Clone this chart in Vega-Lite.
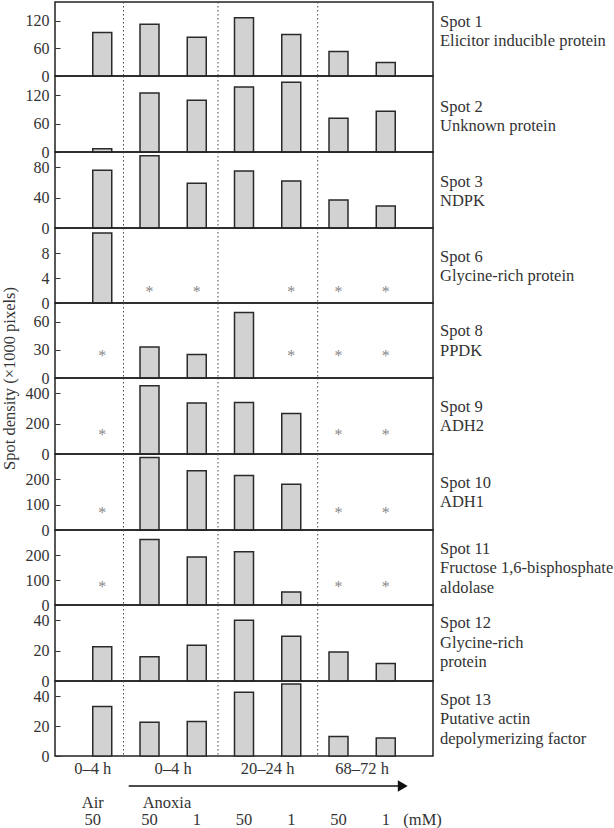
{
  "$schema": "https://vega.github.io/schema/vega-lite/v6.json",
  "padding": {"left": 0, "top": 0, "right": 0, "bottom": 0},
  "spacing": 0,
  "bounds": "flush",
  "config": {
    "view": {"stroke": "#222", "strokeWidth": 1.5},
    "font": "Liberation Serif",
    "scale": {"continuousPadding": 0},
    "axisY": {"domain": false, "grid": false, "tickCount": 3, "tickSize": -5, "tickWidth": 1, "labelPadding": 11, "labelOverlap": false, "labelFontSize": 16, "labelColor": "#333", "tickColor": "#333", "labelFont": "Liberation Serif", "titleFont": "Liberation Serif", "titleFontSize": 16.5, "titleFontWeight": "normal", "titleColor": "#333", "titlePadding": 8},
    "text": {"font": "Liberation Serif", "fontSize": 16.5, "color": "#333"}
  },
  "datasets": {
    "bars": [
      {"spot": "Spot 1", "pos": 0, "value": 94}, {"spot": "Spot 1", "pos": 1, "value": 112}, {"spot": "Spot 1", "pos": 2, "value": 84}, {"spot": "Spot 1", "pos": 3, "value": 126}, {"spot": "Spot 1", "pos": 4, "value": 90}, {"spot": "Spot 1", "pos": 5, "value": 53}, {"spot": "Spot 1", "pos": 6, "value": 29},
      {"spot": "Spot 2", "pos": 0, "value": 7}, {"spot": "Spot 2", "pos": 1, "value": 124}, {"spot": "Spot 2", "pos": 2, "value": 109}, {"spot": "Spot 2", "pos": 3, "value": 137}, {"spot": "Spot 2", "pos": 4, "value": 147}, {"spot": "Spot 2", "pos": 5, "value": 71}, {"spot": "Spot 2", "pos": 6, "value": 86},
      {"spot": "Spot 3", "pos": 0, "value": 76}, {"spot": "Spot 3", "pos": 1, "value": 95}, {"spot": "Spot 3", "pos": 2, "value": 59}, {"spot": "Spot 3", "pos": 3, "value": 75}, {"spot": "Spot 3", "pos": 4, "value": 62}, {"spot": "Spot 3", "pos": 5, "value": 37}, {"spot": "Spot 3", "pos": 6, "value": 29},
      {"spot": "Spot 6", "pos": 0, "value": 11.2},
      {"spot": "Spot 8", "pos": 1, "value": 33}, {"spot": "Spot 8", "pos": 2, "value": 25}, {"spot": "Spot 8", "pos": 3, "value": 70},
      {"spot": "Spot 9", "pos": 1, "value": 449}, {"spot": "Spot 9", "pos": 2, "value": 335}, {"spot": "Spot 9", "pos": 3, "value": 338}, {"spot": "Spot 9", "pos": 4, "value": 266},
      {"spot": "Spot 10", "pos": 1, "value": 286}, {"spot": "Spot 10", "pos": 2, "value": 234}, {"spot": "Spot 10", "pos": 3, "value": 215}, {"spot": "Spot 10", "pos": 4, "value": 181},
      {"spot": "Spot 11", "pos": 1, "value": 262}, {"spot": "Spot 11", "pos": 2, "value": 192}, {"spot": "Spot 11", "pos": 3, "value": 213}, {"spot": "Spot 11", "pos": 4, "value": 52},
      {"spot": "Spot 12", "pos": 0, "value": 22.5}, {"spot": "Spot 12", "pos": 1, "value": 16}, {"spot": "Spot 12", "pos": 2, "value": 23.5}, {"spot": "Spot 12", "pos": 3, "value": 40}, {"spot": "Spot 12", "pos": 4, "value": 29.5}, {"spot": "Spot 12", "pos": 5, "value": 19}, {"spot": "Spot 12", "pos": 6, "value": 11.5},
      {"spot": "Spot 13", "pos": 0, "value": 33}, {"spot": "Spot 13", "pos": 1, "value": 22.5}, {"spot": "Spot 13", "pos": 2, "value": 23}, {"spot": "Spot 13", "pos": 3, "value": 42.5}, {"spot": "Spot 13", "pos": 4, "value": 48}, {"spot": "Spot 13", "pos": 5, "value": 13}, {"spot": "Spot 13", "pos": 6, "value": 12}
    ],
    "stars": [
      {"spot": "Spot 6", "pos": 1}, {"spot": "Spot 6", "pos": 2}, {"spot": "Spot 6", "pos": 4}, {"spot": "Spot 6", "pos": 5}, {"spot": "Spot 6", "pos": 6},
      {"spot": "Spot 8", "pos": 0}, {"spot": "Spot 8", "pos": 4}, {"spot": "Spot 8", "pos": 5}, {"spot": "Spot 8", "pos": 6},
      {"spot": "Spot 9", "pos": 0}, {"spot": "Spot 9", "pos": 5}, {"spot": "Spot 9", "pos": 6},
      {"spot": "Spot 10", "pos": 0}, {"spot": "Spot 10", "pos": 5}, {"spot": "Spot 10", "pos": 6},
      {"spot": "Spot 11", "pos": 0}, {"spot": "Spot 11", "pos": 5}, {"spot": "Spot 11", "pos": 6}
    ],
    "seps": [{"x": 0.45}, {"x": 2.45}, {"x": 4.56}],
    "labels": [
      {"spot": "Spot 1", "label": "Spot 1\nElicitor inducible protein"},
      {"spot": "Spot 2", "label": "Spot 2\nUnknown protein"},
      {"spot": "Spot 3", "label": "Spot 3\nNDPK"},
      {"spot": "Spot 6", "label": "Spot 6\nGlycine-rich protein"},
      {"spot": "Spot 8", "label": "Spot 8\nPPDK"},
      {"spot": "Spot 9", "label": "Spot 9\nADH2"},
      {"spot": "Spot 10", "label": "Spot 10\nADH1"},
      {"spot": "Spot 11", "label": "Spot 11\nFructose 1,6-bisphosphate\naldolase"},
      {"spot": "Spot 12", "label": "Spot 12\nGlycine-rich\nprotein"},
      {"spot": "Spot 13", "label": "Spot 13\nPutative actin\ndepolymerizing factor"}
    ],
    "bottom": [
      {"row": "time", "x": -0.2, "label": "0–4 h"},
      {"row": "time", "x": 1.5, "label": "0–4 h"},
      {"row": "time", "x": 3.5, "label": "20–24 h"},
      {"row": "time", "x": 5.5, "label": "68–72 h"},
      {"row": "treat", "x": -0.2, "label": "Air"},
      {"row": "treat", "x": 1.37, "label": "Anoxia"},
      {"row": "conc", "x": -0.2, "label": "50"},
      {"row": "conc", "x": 1, "label": "50"},
      {"row": "conc", "x": 2, "label": "1"},
      {"row": "conc", "x": 3, "label": "50"},
      {"row": "conc", "x": 4, "label": "1"},
      {"row": "conc", "x": 5, "label": "50"},
      {"row": "conc", "x": 6, "label": "1"},
      {"row": "conc", "x": 6.78, "label": "(mM)"}
    ],
    "arrow": [{"row": "arrow", "from": 0.56, "to": 6.3, "head": 6.36}]
  },
  "vconcat": [
    {"width": 378, "height": 74, "layer": [
      {"data": {"name": "seps"}, "mark": {"type": "rule", "strokeDash": [1.5, 2.5], "color": "#444", "strokeWidth": 1}, "encoding": {"x": {"field": "x", "type": "quantitative", "scale": {"domain": [-1, 7], "padding": 0}, "axis": null}}},
      {"data": {"name": "bars"}, "transform": [{"filter": "datum.spot === 'Spot 1'"}], "mark": {"type": "bar", "size": 19, "fill": "#d2d2d2", "stroke": "#2a2a2a", "strokeWidth": 1.5}, "encoding": {"x": {"field": "pos", "type": "quantitative"}, "y": {"field": "value", "type": "quantitative", "scale": {"domain": [0, 150]}, "axis": {"values": [0, 60, 120], "tickCount": 3, "title": null}}}},
      {"data": {"name": "labels"}, "transform": [{"filter": "datum.spot === 'Spot 1'"}], "mark": {"type": "text", "align": "left", "baseline": "top", "dx": 7, "lineBreak": "\n", "lineHeight": 19}, "encoding": {"text": {"field": "label"}, "x": {"datum": 7}, "y": {"datum": 135}}}
    ]},
    {"width": 378, "height": 76, "layer": [
      {"data": {"name": "seps"}, "mark": {"type": "rule", "strokeDash": [1.5, 2.5], "color": "#444", "strokeWidth": 1}, "encoding": {"x": {"field": "x", "type": "quantitative", "scale": {"domain": [-1, 7], "padding": 0}, "axis": null}}},
      {"data": {"name": "bars"}, "transform": [{"filter": "datum.spot === 'Spot 2'"}], "mark": {"type": "bar", "size": 19, "fill": "#d2d2d2", "stroke": "#2a2a2a", "strokeWidth": 1.5}, "encoding": {"x": {"field": "pos", "type": "quantitative"}, "y": {"field": "value", "type": "quantitative", "scale": {"domain": [0, 160]}, "axis": {"values": [0, 60, 120], "tickCount": 3, "title": null}}}},
      {"data": {"name": "labels"}, "transform": [{"filter": "datum.spot === 'Spot 2'"}], "mark": {"type": "text", "align": "left", "baseline": "top", "dx": 7, "lineBreak": "\n", "lineHeight": 19.5}, "encoding": {"text": {"field": "label"}, "x": {"datum": 7}, "y": {"datum": 112.6}}}
    ]},
    {"width": 378, "height": 76, "layer": [
      {"data": {"name": "seps"}, "mark": {"type": "rule", "strokeDash": [1.5, 2.5], "color": "#444", "strokeWidth": 1}, "encoding": {"x": {"field": "x", "type": "quantitative", "scale": {"domain": [-1, 7], "padding": 0}, "axis": null}}},
      {"data": {"name": "bars"}, "transform": [{"filter": "datum.spot === 'Spot 3'"}], "mark": {"type": "bar", "size": 19, "fill": "#d2d2d2", "stroke": "#2a2a2a", "strokeWidth": 1.5}, "encoding": {"x": {"field": "pos", "type": "quantitative"}, "y": {"field": "value", "type": "quantitative", "scale": {"domain": [0, 100]}, "axis": {"values": [0, 40, 80], "tickCount": 3, "title": null}}}},
      {"data": {"name": "labels"}, "transform": [{"filter": "datum.spot === 'Spot 3'"}], "mark": {"type": "text", "align": "left", "baseline": "top", "dx": 7, "lineBreak": "\n", "lineHeight": 19.5}, "encoding": {"text": {"field": "label"}, "x": {"datum": 7}, "y": {"datum": 71.2}}}
    ]},
    {"width": 378, "height": 75, "layer": [
      {"data": {"name": "seps"}, "mark": {"type": "rule", "strokeDash": [1.5, 2.5], "color": "#444", "strokeWidth": 1}, "encoding": {"x": {"field": "x", "type": "quantitative", "scale": {"domain": [-1, 7], "padding": 0}, "axis": null}}},
      {"data": {"name": "bars"}, "transform": [{"filter": "datum.spot === 'Spot 6'"}], "mark": {"type": "bar", "size": 19, "fill": "#d2d2d2", "stroke": "#2a2a2a", "strokeWidth": 1.5}, "encoding": {"x": {"field": "pos", "type": "quantitative"}, "y": {"field": "value", "type": "quantitative", "scale": {"domain": [0, 12]}, "axis": {"values": [0, 4, 8], "tickCount": 3, "title": null}}}},
      {"data": {"name": "stars"}, "transform": [{"filter": "datum.spot === 'Spot 6'"}], "mark": {"type": "text", "text": "*", "fontSize": 16, "color": "#888", "baseline": "middle"}, "encoding": {"x": {"field": "pos", "type": "quantitative"}, "y": {"datum": 1.8}}},
      {"data": {"name": "labels"}, "transform": [{"filter": "datum.spot === 'Spot 6'"}], "mark": {"type": "text", "align": "left", "baseline": "top", "dx": 7, "lineBreak": "\n", "lineHeight": 19.5}, "encoding": {"text": {"field": "label"}, "x": {"datum": 7}, "y": {"datum": 8.68}}}
    ]},
    {"width": 378, "height": 75, "layer": [
      {"data": {"name": "seps"}, "mark": {"type": "rule", "strokeDash": [1.5, 2.5], "color": "#444", "strokeWidth": 1}, "encoding": {"x": {"field": "x", "type": "quantitative", "scale": {"domain": [-1, 7], "padding": 0}, "axis": null}}},
      {"data": {"name": "bars"}, "transform": [{"filter": "datum.spot === 'Spot 8'"}], "mark": {"type": "bar", "size": 19, "fill": "#d2d2d2", "stroke": "#2a2a2a", "strokeWidth": 1.5}, "encoding": {"x": {"field": "pos", "type": "quantitative"}, "y": {"field": "value", "type": "quantitative", "scale": {"domain": [0, 80]}, "axis": {"values": [0, 30, 60], "tickCount": 3, "title": null}}}},
      {"data": {"name": "stars"}, "transform": [{"filter": "datum.spot === 'Spot 8'"}], "mark": {"type": "text", "text": "*", "fontSize": 16, "color": "#888", "baseline": "middle"}, "encoding": {"x": {"field": "pos", "type": "quantitative"}, "y": {"datum": 23.3}}},
      {"data": {"name": "labels"}, "transform": [{"filter": "datum.spot === 'Spot 8'"}], "mark": {"type": "text", "align": "left", "baseline": "top", "dx": 7, "lineBreak": "\n", "lineHeight": 19.5}, "encoding": {"text": {"field": "label"}, "x": {"datum": 7}, "y": {"datum": 58.2}}}
    ]},
    {"width": 378, "height": 76, "layer": [
      {"data": {"name": "seps"}, "mark": {"type": "rule", "strokeDash": [1.5, 2.5], "color": "#444", "strokeWidth": 1}, "encoding": {"x": {"field": "x", "type": "quantitative", "scale": {"domain": [-1, 7], "padding": 0}, "axis": null}}},
      {"data": {"name": "bars"}, "transform": [{"filter": "datum.spot === 'Spot 9'"}], "mark": {"type": "bar", "size": 19, "fill": "#d2d2d2", "stroke": "#2a2a2a", "strokeWidth": 1.5}, "encoding": {"x": {"field": "pos", "type": "quantitative"}, "y": {"field": "value", "type": "quantitative", "scale": {"domain": [0, 500]}, "axis": {"values": [0, 200, 400], "tickCount": 3, "title": "Spot density (×1000 pixels)", "titleY": 0}}}},
      {"data": {"name": "stars"}, "transform": [{"filter": "datum.spot === 'Spot 9'"}], "mark": {"type": "text", "text": "*", "fontSize": 16, "color": "#888", "baseline": "middle"}, "encoding": {"x": {"field": "pos", "type": "quantitative"}, "y": {"datum": 126}}},
      {"data": {"name": "labels"}, "transform": [{"filter": "datum.spot === 'Spot 9'"}], "mark": {"type": "text", "align": "left", "baseline": "top", "dx": 7, "lineBreak": "\n", "lineHeight": 19.5}, "encoding": {"text": {"field": "label"}, "x": {"datum": 7}, "y": {"datum": 363}}}
    ]},
    {"width": 378, "height": 76, "layer": [
      {"data": {"name": "seps"}, "mark": {"type": "rule", "strokeDash": [1.5, 2.5], "color": "#444", "strokeWidth": 1}, "encoding": {"x": {"field": "x", "type": "quantitative", "scale": {"domain": [-1, 7], "padding": 0}, "axis": null}}},
      {"data": {"name": "bars"}, "transform": [{"filter": "datum.spot === 'Spot 10'"}], "mark": {"type": "bar", "size": 19, "fill": "#d2d2d2", "stroke": "#2a2a2a", "strokeWidth": 1.5}, "encoding": {"x": {"field": "pos", "type": "quantitative"}, "y": {"field": "value", "type": "quantitative", "scale": {"domain": [0, 300]}, "axis": {"values": [0, 100, 200], "tickCount": 3, "title": null}}}},
      {"data": {"name": "stars"}, "transform": [{"filter": "datum.spot === 'Spot 10'"}], "mark": {"type": "text", "text": "*", "fontSize": 16, "color": "#888", "baseline": "middle"}, "encoding": {"x": {"field": "pos", "type": "quantitative"}, "y": {"datum": 67}}},
      {"data": {"name": "labels"}, "transform": [{"filter": "datum.spot === 'Spot 10'"}], "mark": {"type": "text", "align": "left", "baseline": "top", "dx": 7, "lineBreak": "\n", "lineHeight": 19.5}, "encoding": {"text": {"field": "label"}, "x": {"datum": 7}, "y": {"datum": 219}}}
    ]},
    {"width": 378, "height": 75, "layer": [
      {"data": {"name": "seps"}, "mark": {"type": "rule", "strokeDash": [1.5, 2.5], "color": "#444", "strokeWidth": 1}, "encoding": {"x": {"field": "x", "type": "quantitative", "scale": {"domain": [-1, 7], "padding": 0}, "axis": null}}},
      {"data": {"name": "bars"}, "transform": [{"filter": "datum.spot === 'Spot 11'"}], "mark": {"type": "bar", "size": 19, "fill": "#d2d2d2", "stroke": "#2a2a2a", "strokeWidth": 1.5}, "encoding": {"x": {"field": "pos", "type": "quantitative"}, "y": {"field": "value", "type": "quantitative", "scale": {"domain": [0, 300]}, "axis": {"values": [0, 100, 200], "tickCount": 3, "title": null}}}},
      {"data": {"name": "stars"}, "transform": [{"filter": "datum.spot === 'Spot 11'"}], "mark": {"type": "text", "text": "*", "fontSize": 16, "color": "#888", "baseline": "middle"}, "encoding": {"x": {"field": "pos", "type": "quantitative"}, "y": {"datum": 72.6}}},
      {"data": {"name": "labels"}, "transform": [{"filter": "datum.spot === 'Spot 11'"}], "mark": {"type": "text", "align": "left", "baseline": "top", "dx": 7, "lineBreak": "\n", "lineHeight": 19.5}, "encoding": {"text": {"field": "label"}, "x": {"datum": 7}, "y": {"datum": 257}}}
    ]},
    {"width": 378, "height": 76, "layer": [
      {"data": {"name": "seps"}, "mark": {"type": "rule", "strokeDash": [1.5, 2.5], "color": "#444", "strokeWidth": 1}, "encoding": {"x": {"field": "x", "type": "quantitative", "scale": {"domain": [-1, 7], "padding": 0}, "axis": null}}},
      {"data": {"name": "bars"}, "transform": [{"filter": "datum.spot === 'Spot 12'"}], "mark": {"type": "bar", "size": 19, "fill": "#d2d2d2", "stroke": "#2a2a2a", "strokeWidth": 1.5}, "encoding": {"x": {"field": "pos", "type": "quantitative"}, "y": {"field": "value", "type": "quantitative", "scale": {"domain": [0, 50]}, "axis": {"values": [0, 20, 40], "tickCount": 3, "title": null}}}},
      {"data": {"name": "labels"}, "transform": [{"filter": "datum.spot === 'Spot 12'"}], "mark": {"type": "text", "align": "left", "baseline": "top", "dx": 7, "lineBreak": "\n", "lineHeight": 19.5}, "encoding": {"text": {"field": "label"}, "x": {"datum": 7}, "y": {"datum": 43.3}}}
    ]},
    {"width": 378, "height": 75, "layer": [
      {"data": {"name": "seps"}, "mark": {"type": "rule", "strokeDash": [1.5, 2.5], "color": "#444", "strokeWidth": 1}, "encoding": {"x": {"field": "x", "type": "quantitative", "scale": {"domain": [-1, 7], "padding": 0}, "axis": null}}},
      {"data": {"name": "bars"}, "transform": [{"filter": "datum.spot === 'Spot 13'"}], "mark": {"type": "bar", "size": 19, "fill": "#d2d2d2", "stroke": "#2a2a2a", "strokeWidth": 1.5}, "encoding": {"x": {"field": "pos", "type": "quantitative"}, "y": {"field": "value", "type": "quantitative", "scale": {"domain": [0, 50]}, "axis": {"values": [0, 20, 40], "tickCount": 3, "title": null}}}},
      {"data": {"name": "labels"}, "transform": [{"filter": "datum.spot === 'Spot 13'"}], "mark": {"type": "text", "align": "left", "baseline": "top", "dx": 7, "lineBreak": "\n", "lineHeight": 19.5}, "encoding": {"text": {"field": "label"}, "x": {"datum": 7}, "y": {"datum": 42.8}}}
    ]},
    {"width": 378, "height": 77, "view": {"stroke": null}, "layer": [
      {"data": {"name": "bottom"}, "mark": {"type": "text", "baseline": "middle"}, "encoding": {"x": {"field": "x", "type": "quantitative", "scale": {"domain": [-1, 7], "padding": 0}, "axis": null}, "y": {"field": "row", "type": "ordinal", "scale": {"type": "point", "domain": ["time", "arrow", "treat", "conc"], "padding": 0.76}, "axis": null}, "text": {"field": "label"}}},
      {"data": {"name": "arrow"}, "mark": {"type": "rule", "strokeWidth": 1.5, "color": "#111"}, "encoding": {"x": {"field": "from", "type": "quantitative"}, "x2": {"field": "to"}, "y": {"field": "row", "type": "ordinal"}}},
      {"data": {"name": "arrow"}, "mark": {"type": "point", "shape": "triangle-right", "filled": true, "size": 130, "color": "#111", "opacity": 1}, "encoding": {"x": {"field": "head", "type": "quantitative"}, "y": {"field": "row", "type": "ordinal"}}}
    ]}
  ]
}
